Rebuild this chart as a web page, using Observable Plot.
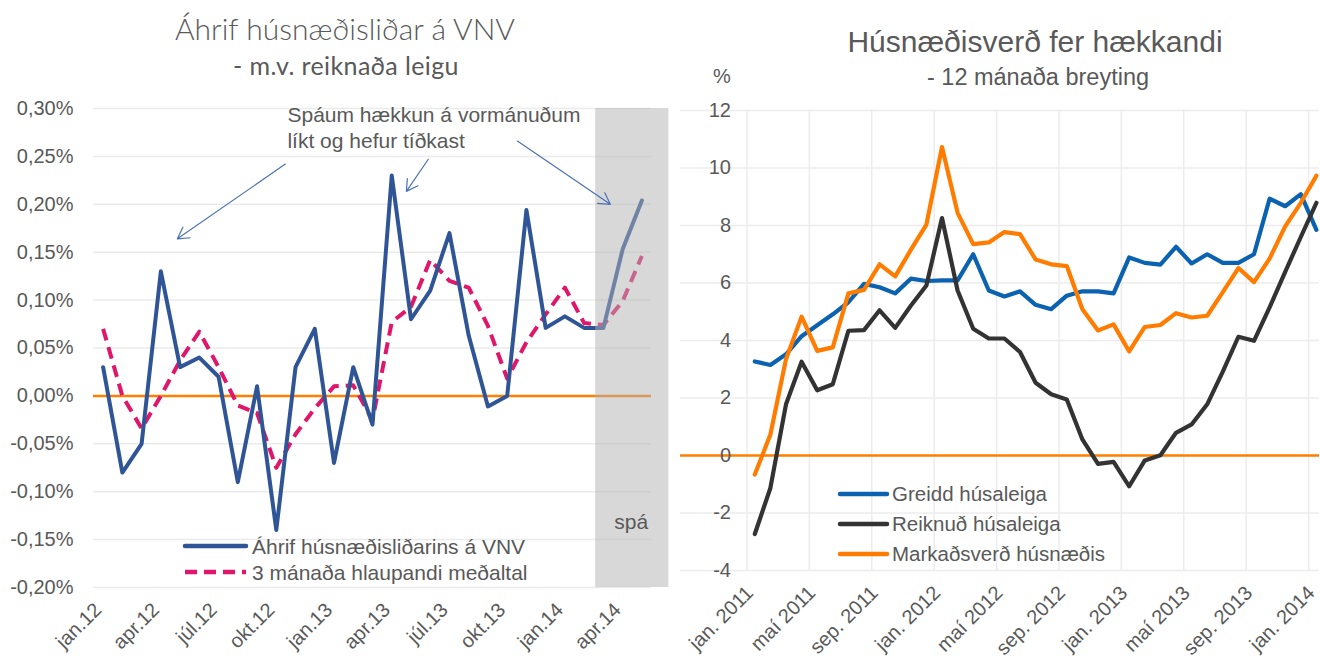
<!DOCTYPE html>
<html><head><meta charset="utf-8">
<script src="https://cdn.jsdelivr.net/npm/d3@7"></script>
<script src="https://cdn.jsdelivr.net/npm/@observablehq/plot@0.6"></script>
<style>
body{margin:0;background:#fff;font-family:"Liberation Sans",Arial,sans-serif;}
#wrap{position:relative;width:1320px;height:660px;overflow:hidden;background:#fff;}
.abs{position:absolute;white-space:nowrap;color:#595959;line-height:1;}
svg{overflow:visible;}
</style></head><body><div id="wrap"></div>
<script>
// ---------- LEFT CHART DATA ----------
const leftMonths = ["jan.12","feb.12","mar.12","apr.12","maí.12","jún.12","júl.12","ágú.12","sep.12","okt.12","nóv.12","des.12",
  "jan.13","feb.13","mar.13","apr.13","maí.13","jún.13","júl.13","ágú.13","sep.13","okt.13","nóv.13","des.13",
  "jan.14","feb.14","mar.14","apr.14","maí.14"];
const leftTickLabels = ["jan.12","apr.12","júl.12","okt.12","jan.13","apr.13","júl.13","okt.13","jan.14","apr.14"];
const leftYTicks = [-0.2,-0.15,-0.1,-0.05,0,0.05,0.1,0.15,0.2,0.25,0.3];
const housingEffect = [0.03,-0.08,-0.05,0.13,0.03,0.04,0.02,-0.09,0.01,-0.14,0.03,0.07,
  -0.07,0.03,-0.03,0.23,0.08,0.11,0.17,0.063,-0.011,0.0,0.194,0.071,0.083,0.071,0.071,0.153,0.204];
const movingAvg = [0.07,0.0,-0.034,0.0,0.037,0.067,0.03,-0.01,-0.018,-0.075,-0.04,-0.013,
  0.01,0.011,-0.025,0.077,0.093,0.142,0.12,0.113,0.073,0.018,0.056,0.085,0.113,0.076,0.074,0.099,0.146];
const leftSeriesNames = ["Áhrif húsnæðisliðarins á VNV","3 mánaða hlaupandi meðaltal"];
const forecastBand = [{x1: 25.6, x2: 29.4, y1: -0.2, y2: 0.3}];
const annotationLines = [
  {i: 9.58, v: 0.293, t: "Spáum hækkun á vormánuðum"},
  {i: 9.58, v: 0.266, t: "líkt og hefur tíðkast"}
];
const annotationArrows = [
  {i1: 9.47, v1: 0.242, i2: 3.86, v2: 0.164},
  {i1: 16.9, v1: 0.247, i2: 15.76, v2: 0.2135},
  {i1: 21.53, v1: 0.266, i2: 26.36, v2: 0.2}
];
const forecastLabel = [{i: 27.45, v: -0.132, t: "spá"}];

// ---------- RIGHT CHART DATA ----------
const rightMonths = ["jan. 2011","feb. 2011","mar. 2011","apr. 2011","maí 2011","jún. 2011","júl. 2011","ágú. 2011","sep. 2011","okt. 2011","nóv. 2011","des. 2011",
  "jan. 2012","feb. 2012","mar. 2012","apr. 2012","maí 2012","jún. 2012","júl. 2012","ágú. 2012","sep. 2012","okt. 2012","nóv. 2012","des. 2012",
  "jan. 2013","feb. 2013","mar. 2013","apr. 2013","maí 2013","jún. 2013","júl. 2013","ágú. 2013","sep. 2013","okt. 2013","nóv. 2013","des. 2013",
  "jan. 2014"];
const rightTickLabels = ["jan. 2011","maí 2011","sep. 2011","jan. 2012","maí 2012","sep. 2012","jan. 2013","maí 2013","sep. 2013","jan. 2014"];
const rightYTicks = [-4,-2,0,2,4,6,8,10,12];
const greiddHusaleiga = [3.27,3.15,3.52,4.15,4.53,4.91,5.33,5.97,5.85,5.64,6.15,6.07,
  6.09,6.09,7.0,5.74,5.53,5.71,5.24,5.09,5.56,5.71,5.71,5.64,
  6.89,6.70,6.64,7.26,6.68,7.0,6.70,6.70,7.0,8.93,8.67,9.09,7.85];
const reiknudHusaleiga = [-2.73,-1.13,1.78,3.26,2.27,2.48,4.34,4.36,5.05,4.44,5.21,5.91,
  8.26,5.74,4.41,4.07,4.07,3.6,2.53,2.13,1.95,0.56,-0.29,-0.22,
  -1.07,-0.17,0.01,0.79,1.08,1.78,2.92,4.13,3.99,5.15,6.39,7.6,8.79];
const markadsverd = [-0.66,0.73,3.35,4.83,3.64,3.76,5.64,5.76,6.65,6.23,7.15,8.03,
  10.73,8.44,7.35,7.41,7.77,7.70,6.82,6.65,6.59,5.09,4.35,4.56,
  3.62,4.47,4.54,4.95,4.80,4.86,5.68,6.52,6.03,6.85,7.97,8.79,9.73];
const rightSeriesNames = ["Greidd húsaleiga","Reiknuð húsaleiga","Markaðsverð húsnæðis"];
const rightColors = ["#0a62b0","#333333","#ff7c00"];

// ---------- BUILD ----------
const wrap = document.getElementById("wrap");
const FONT = "Liberation Sans, Arial, sans-serif";
const TXT = "#595959";
function addText(text, x, y, size, opts = {}) {
  const d = document.createElement("div");
  d.className = "abs";
  d.textContent = text;
  d.style.left = x + "px"; d.style.top = y + "px";
  d.style.fontSize = size + "px";
  d.style.fontFamily = opts.family || FONT;
  if (opts.weight) d.style.fontWeight = opts.weight;
  if (opts.spacing) d.style.letterSpacing = opts.spacing;
  d.style.transform = opts.center ? "translate(-50%,-50%)" : "translate(0,-50%)";
  wrap.appendChild(d);
  return d;
}
function addSwatch(x1, x2, y, color, dash, w) {
  const ns = "http://www.w3.org/2000/svg";
  const s = document.createElementNS(ns, "svg");
  s.setAttribute("width", x2 - x1 + 4); s.setAttribute("height", 12);
  s.style.position = "absolute"; s.style.left = (x1 - 2) + "px"; s.style.top = (y - 6) + "px";
  const l = document.createElementNS(ns, "line");
  l.setAttribute("x1", 2); l.setAttribute("x2", x2 - x1 + 2); l.setAttribute("y1", 6); l.setAttribute("y2", 6);
  l.setAttribute("stroke", color); l.setAttribute("stroke-width", w);
  if (dash) { l.setAttribute("stroke-dasharray", dash); }
  else l.setAttribute("stroke-linecap", "round");
  s.appendChild(l);
  wrap.appendChild(s);
}

const leftData = leftMonths.map((m, i) => ({i, month: m, effect: housingEffect[i], avg: movingAvg[i]}));
const leftTicks = leftTickLabels.map(l => ({label: l, i: leftMonths.indexOf(l)}));
const fmtPct = d => d.toFixed(2).replace(".", ",") + "%";

const leftPlot = Plot.plot({
  width: 680, height: 660,
  marginLeft: 93, marginRight: 29, marginTop: 108, marginBottom: 73,
  style: {fontFamily: FONT, fontSize: "20px", background: "transparent", overflow: "visible"},
  x: {domain: [-0.5, leftMonths.length - 0.5], axis: null},
  y: {domain: [-0.2, 0.3], axis: null},
  marks: [
    Plot.ruleY(leftYTicks, {stroke: "#ebebeb", strokeWidth: 1.5}),
    Plot.ruleY([0], {stroke: "#ff7f00", strokeWidth: 2.5}),
    Plot.line(leftData, {x: "i", y: "avg", stroke: "#e0166a", strokeWidth: 4, strokeDasharray: "12,7", strokeLinecap: "butt"}),
    Plot.line(leftData, {x: "i", y: "effect", stroke: "#2f5597", strokeWidth: 4}),
    Plot.rect(forecastBand, {x1: "x1", x2: "x2", y1: "y1", y2: "y2", fill: "#b2b2b2", fillOpacity: 0.5}),
    Plot.arrow(annotationArrows, {x1: "i1", y1: "v1", x2: "i2", y2: "v2", stroke: "#4a72b8", strokeWidth: 1.2, headLength: 16, bend: 0}),
    Plot.text(annotationLines, {x: "i", y: "v", text: "t", textAnchor: "start", fill: TXT, fontSize: 21}),
    Plot.text(forecastLabel, {x: "i", y: "v", text: "t", fill: TXT, fontSize: 21}),
    Plot.text(leftYTicks, {x: -0.5, y: d => d, text: fmtPct, textAnchor: "end", dx: -20, fill: TXT, fontSize: 20}),
    Plot.text(leftTicks, {x: "i", text: "label", frameAnchor: "bottom", rotate: -45, textAnchor: "end", lineAnchor: "middle", dy: 19, dx: -5, fill: TXT, fontSize: 20})
  ]
});
leftPlot.style.position = "absolute"; leftPlot.style.left = "0px"; leftPlot.style.top = "0px";
wrap.appendChild(leftPlot);

const rightData = [];
rightSeriesNames.forEach((s, k) => {
  const vals = [greiddHusaleiga, reiknudHusaleiga, markadsverd][k];
  rightMonths.forEach((m, i) => rightData.push({series: s, i, month: m, value: vals[i]}));
});
const rightTicks = rightTickLabels.map(l => ({label: l, i: rightMonths.indexOf(l)}));
const rightGridX = rightTicks.map(t => t.i - 0.5);

const rightPlot = Plot.plot({
  width: 640, height: 660,
  marginTop: 110, marginBottom: 90,
  style: {fontFamily: FONT, fontSize: "20px", background: "transparent", overflow: "hidden"},
  x: {domain: [-0.5, rightMonths.length - 0.5], range: [66.5, 643.7], axis: null},
  y: {domain: [-4, 12], axis: null},
  color: {domain: rightSeriesNames, range: rightColors},
  marks: [
    Plot.ruleY(rightYTicks, {stroke: "#ececec", strokeWidth: 1.5}),
    Plot.ruleX(rightGridX, {stroke: "#ececec", strokeWidth: 1.5}),
    Plot.ruleY([0], {stroke: "#ff7f00", strokeWidth: 2.5}),
    Plot.line(rightData, {x: "i", y: "value", z: "series", stroke: "series", strokeWidth: 4.2}),
    Plot.text(rightYTicks, {x: -0.5, y: d => d, text: d => String(d), textAnchor: "end", dx: -16, fill: TXT, fontSize: 20}),
    Plot.text(rightTicks, {x: "i", text: "label", frameAnchor: "bottom", rotate: -45, textAnchor: "end", lineAnchor: "middle", dy: 19, dx: -5, fill: TXT, fontSize: 20})
  ]
});
rightPlot.style.position = "absolute"; rightPlot.style.left = "680px"; rightPlot.style.top = "0px";
wrap.appendChild(rightPlot);

// titles
addText("Áhrif húsnæðisliðar á VNV", 345, 28, 30, {center: true, family: "Lato, 'Open Sans', sans-serif", weight: 300});
addText("- m.v. reiknaða leigu", 346, 65, 25, {center: true, family: "Lato, 'Open Sans', sans-serif", spacing: "0.4px"});
addText("Húsnæðisverð fer hækkandi", 1035, 42, 30, {center: true});
addText("- 12 mánaða breyting", 1038, 78, 23.5, {center: true});
addText("%", 713, 76, 20);

// legends
addSwatch(185, 246, 546, "#2f5597", null, 4.5);
addText(leftSeriesNames[0], 252, 546, 21);
addSwatch(185, 246, 572, "#e0166a", "12,7", 4.5);
addText(leftSeriesNames[1], 252, 572, 21);
[494, 524, 554].forEach((y, k) => {
  addSwatch(840, 887, y, rightColors[k], null, 4.5);
  addText(rightSeriesNames[k], 892, y, 20.5);
});
</script></body></html>
